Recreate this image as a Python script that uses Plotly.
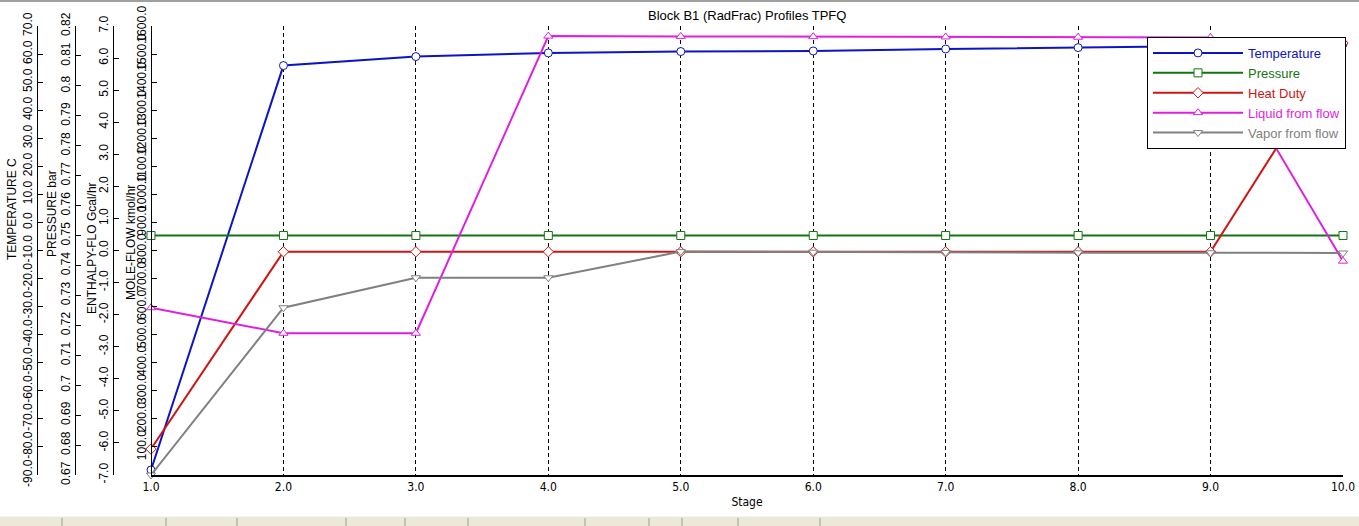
import plotly.graph_objects as go

W, H = 1359, 526
PL, PR, PT, PB = 151, 1343, 26, 475  # plot area pixels

stages = [1, 2, 3, 4, 5, 6, 7, 8, 9, 10]
temperature = [-88.2, 55.9, 59.1, 60.4, 60.9, 61.1, 61.8, 62.3, 62.9, 63.6]
pressure = [0.75, 0.75, 0.75, 0.75, 0.75, 0.75, 0.75, 0.75, 0.75, 0.75]
heat_duty = [-6.19, -0.04, -0.04, -0.04, -0.04, -0.04, -0.04, -0.04, -0.04, 6.47]
liquid_flow = [596, 505, 505, 1564, 1563, 1562, 1561, 1560, 1559, 762]
vapor_flow = [0, 596, 703, 703, 796, 794, 793, 792, 792, 791]

temp_ticks = [-90, -80, -70, -60, -50, -40, -30, -20, -10, 0, 10, 20, 30, 40, 50, 60, 70]
pres_ticks = [0.67, 0.68, 0.69, 0.70, 0.71, 0.72, 0.73, 0.74, 0.75, 0.76, 0.77, 0.78, 0.79, 0.80, 0.81, 0.82]
enth_ticks = [-7, -6, -5, -4, -3, -2, -1, 0, 1, 2, 3, 4, 5, 6, 7]
flow_ticks = [100, 200, 300, 400, 500, 600, 700, 800, 900, 1000, 1100, 1200, 1300, 1400, 1500, 1600]
stage_ticks = [1, 2, 3, 4, 5, 6, 7, 8, 9, 10]

FONT = "Arial, Liberation Sans, sans-serif"
NARROW = "Liberation Sans Narrow, Arial Narrow, DejaVu Sans Condensed, Arial, sans-serif"

def px_x(p):
    return p / W

def px_y(p):
    return (PB - p) / (PB - PT)

series = [
    ("Temperature", temperature, "y", "#0c14c4", "circle"),
    ("Pressure", pressure, "y2", "#127512", "square"),
    ("Heat Duty", heat_duty, "y3", "#d01414", "diamond"),
    ("Liquid from flow", liquid_flow, "y4", "#e01ee0", "triangle-up"),
    ("Vapor from flow", vapor_flow, "y4", "#808080", "triangle-down"),
]

fig = go.Figure()
for name, vals, yax, col, sym in series:
    fig.add_trace(go.Scatter(
        x=stages, y=vals, yaxis=yax, mode="lines+markers",
        name=f'<span style="color:{col}">{name}</span>',
        line=dict(color=col, width=2),
        marker=dict(symbol=sym, size=8, color="white", line=dict(color=col, width=1)),
        cliponaxis=False,
    ))

common_y = dict(
    showgrid=False, zeroline=False, showline=True, linecolor="black", linewidth=1,
    ticks="inside", ticklen=5, tickcolor="black", tickangle=-90,
    tickfont=dict(family=FONT, size=12, color="black"), anchor="free", side="left",
    automargin=False,
)

fig.update_layout(
    width=W, height=H,
    margin=dict(l=0, r=0, t=PT, b=H - PB, pad=0),
    paper_bgcolor="white", plot_bgcolor="white",
    showlegend=True,
    xaxis=dict(
        domain=[px_x(PL), px_x(PR)], range=[1, 10],
        tickvals=stage_ticks, ticktext=[f"{v:.1f}" for v in stage_ticks],
        showgrid=True, gridcolor="black", gridwidth=1, griddash="4px,3px",
        zeroline=False, showline=True, linecolor="black", linewidth=1.5,
        ticks="", tickfont=dict(family=NARROW, size=12, color="black"),
        title=dict(text="Stage", font=dict(family=NARROW, size=12, color="black"), standoff=4),
        automargin=False,
    ),
    yaxis=dict(common_y, range=[-90, 70], position=px_x(37),
               tickvals=temp_ticks, ticktext=[f"{v:.1f}" for v in temp_ticks]),
    yaxis2=dict(common_y, range=[0.67, 0.82], position=px_x(75), overlaying="y",
                tickvals=pres_ticks, ticktext=[f"{v:g}" for v in pres_ticks]),
    yaxis3=dict(common_y, range=[-7, 7], position=px_x(113), overlaying="y",
                tickvals=enth_ticks, ticktext=[f"{v:.1f}" for v in enth_ticks]),
    yaxis4=dict(common_y, range=[0, 1600], position=px_x(151), overlaying="y",
                tickvals=flow_ticks, ticktext=[f"{v:.1f}" for v in flow_ticks]),
    legend=dict(
        x=px_x(1147), xanchor="left", y=px_y(37), yanchor="top",
        bgcolor="white", bordercolor="black", borderwidth=1,
        font=dict(family=FONT, size=13), itemwidth=90, tracegroupgap=0,
    ),
)

# chart title and axis titles
fig.add_annotation(text="Block B1 (RadFrac) Profiles TPFQ", xref="paper", yref="paper",
                   x=px_x((PL + PR) / 2), y=px_y(16), xanchor="center", yanchor="middle",
                   showarrow=False, font=dict(family=FONT, size=13, color="black"))
axis_titles = [
    ("TEMPERATURE C", 12, 209),
    ("PRESSURE bar", 52, 214),
    ("ENTHALPY-FLO Gcal/hr", 92, 248),
    ("MOLE-FLOW kmol/hr", 131, 243),
]
for txt, xp, yp in axis_titles:
    fig.add_annotation(text=txt, xref="paper", yref="paper", x=px_x(xp), y=px_y(yp),
                       xanchor="center", yanchor="middle", textangle=-90, showarrow=False,
                       font=dict(family=FONT, size=12, color="black"))

# window chrome: top border and bottom tab strip
fig.add_shape(type="rect", xref="paper", yref="paper", x0=0, x1=1, y0=px_y(0), y1=px_y(2),
              fillcolor="#a0a0a0", line=dict(width=0), layer="above")
fig.add_shape(type="rect", xref="paper", yref="paper", x0=0, x1=1, y0=px_y(516), y1=px_y(526),
              fillcolor="#ece9d8", line=dict(width=0), layer="above")
fig.add_shape(type="line", xref="paper", yref="paper", x0=0, x1=1, y0=px_y(516), y1=px_y(516),
              line=dict(color="#ffffff", width=1), layer="above")
for tx in [62, 166, 237, 346, 405, 468, 585, 649, 682, 738, 820]:
    fig.add_shape(type="line", xref="paper", yref="paper", x0=px_x(tx), x1=px_x(tx),
                  y0=px_y(518), y1=px_y(526), line=dict(color="#9d9d92", width=1), layer="above")

fig.write_html(
    "out.html",
    config={"displayModeBar": False},
    post_script="document.body.style.margin='0';document.body.style.overflow='hidden';",
)
